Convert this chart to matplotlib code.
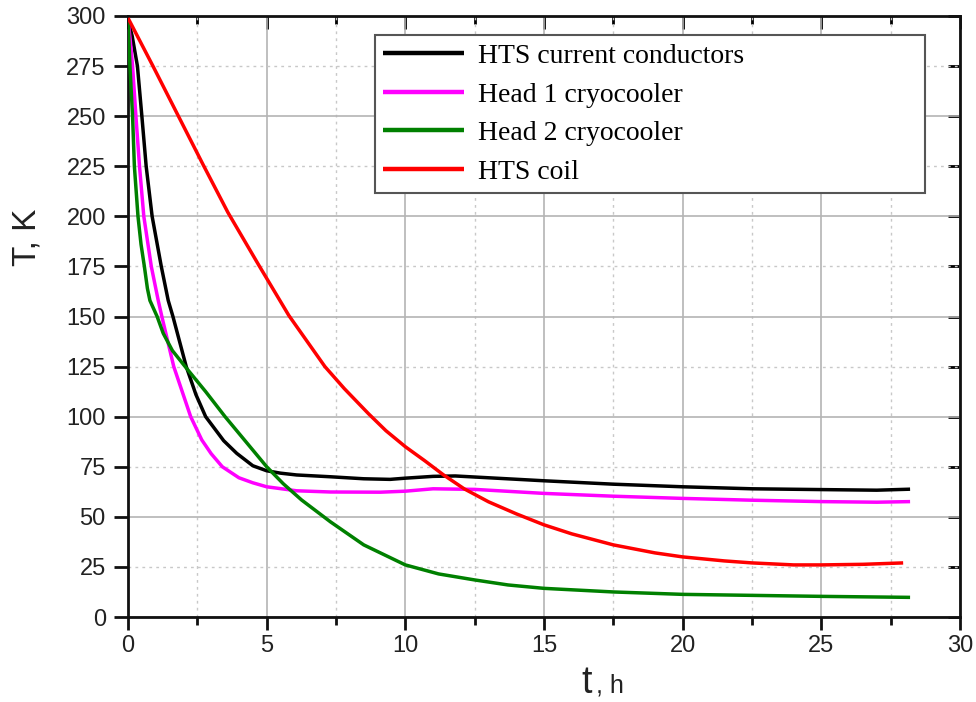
import matplotlib
matplotlib.use("Agg")
import matplotlib.pyplot as plt
from matplotlib.ticker import MultipleLocator, FormatStrFormatter

# ---- data ----
t_coil = [0, 0.9, 1.8, 2.7, 3.6, 4.7, 5.8, 7.1, 7.8, 8.67, 9.3, 10.0, 10.7, 11.37, 12.12,
          13.0, 14.0, 15, 16.0, 17.5, 19, 20, 21.5, 22.5, 24, 25, 26.5, 27.95]
T_coil = [299, 275, 250.5, 226, 202, 176, 150.5, 125, 114, 101.5, 93, 85, 78, 71, 64,
          57.5, 51.5, 46, 41.5, 36, 32, 30, 28, 27, 26, 26, 26.3, 27]

t_cond = [0, 0.15, 0.34, 0.5, 0.655, 0.87, 1.2, 1.45, 1.62, 2.1, 2.45, 2.8, 3.45, 3.92, 4.5,
          5.0, 5.5, 6.08, 7.3, 8.5, 9.45, 10, 11.0, 11.8, 13, 15, 17.5, 20, 22.5, 25, 27, 28.2]
T_cond = [298, 290, 275, 250, 225, 200, 175, 158, 150, 125, 111, 100, 88, 81.7, 75.5,
          73, 71.8, 70.9, 70, 69, 68.7, 69.3, 70.2, 70.4, 69.5, 68, 66.3, 65, 64, 63.6, 63.3, 63.8]

t_head1 = [0, 0.08, 0.165, 0.285, 0.415, 0.57, 0.84, 1.09, 1.22, 1.65, 2.26, 2.66, 3.0, 3.4, 4.0,
           4.5, 5.0, 6.08, 7.3, 9.1, 10, 11, 12.5, 14, 15, 17.5, 20, 22.5, 25, 27, 28.2]
T_head1 = [298, 288, 275, 250, 225, 200, 175, 158, 150, 125, 100, 88.4, 81.5, 75, 69.5,
           67, 65, 63, 62.4, 62.3, 62.8, 64, 63.7, 62.5, 61.7, 60.3, 59.2, 58.3, 57.6, 57.3, 57.6]

t_head2 = [0, 0.035, 0.07, 0.165, 0.23, 0.36, 0.47, 0.59, 0.7, 0.79, 1.05, 1.27, 1.6, 2.06, 2.8,
           3.5, 4.25, 5.0, 5.6, 6.26, 7.3, 8.5, 10, 11.2, 12.5, 13.7, 15, 17.5, 20, 22.5, 25, 28.2]
T_head2 = [298, 287, 275, 250, 225, 200, 186, 175, 164, 158, 150, 141.6, 133, 125, 112.5,
           100, 87.5, 75, 66.5, 58.4, 47.5, 36, 26, 21.5, 18.5, 16, 14.3, 12.5, 11.3, 10.8, 10.3, 9.8]

labels = ["HTS current conductors", "Head 1 cryocooler", "Head 2 cryocooler", "HTS coil"]
colors = ["#000000", "#ff00ff", "#008000", "#ff0000"]

plt.rcParams['font.family'] = ['Liberation Sans', 'DejaVu Sans']

fig = plt.figure(figsize=(9.76, 7.02), dpi=100)
ax = fig.add_axes([128/976, 85/702, 832/976, 601/702])

series = [(t_cond, T_cond), (t_head1, T_head1), (t_head2, T_head2), (t_coil, T_coil)]
lines = []
for (tx, ty), lab, c in zip(series, labels, colors):
    ln, = ax.plot(tx, ty, color=c, lw=2.5, label=lab, solid_joinstyle='round',
                  solid_capstyle='butt', zorder=3)
    lines.append(ln)

ax.set_xlim(0, 30)
ax.set_ylim(0, 300)

ax.xaxis.set_major_locator(MultipleLocator(5))
ax.xaxis.set_minor_locator(MultipleLocator(2.5))
ax.yaxis.set_major_locator(MultipleLocator(50))
ax.yaxis.set_minor_locator(MultipleLocator(25))
ax.yaxis.set_major_formatter(FormatStrFormatter('%d'))
ax.yaxis.set_minor_formatter(FormatStrFormatter('%d'))

ax.grid(which='major', color='#b4b4b4', lw=1.2, ls='-', zorder=0)
ax.grid(which='minor', color='#c8c8c8', lw=1.0, ls=(0, (2, 3)), zorder=0)

for s in ax.spines.values():
    s.set_linewidth(2.0)
    s.set_color('#111111')

ax.tick_params(axis='both', which='both', labelsize=17, labelcolor='#222222', width=2.0,
               color='#111111')
ax.tick_params(axis='x', which='major', direction='out', length=9, pad=4)
ax.tick_params(axis='x', which='minor', direction='out', length=6)
ax.tick_params(axis='y', which='both', direction='out', length=10, pad=6)

# inward ticks on top and right
axt = ax.secondary_xaxis('top')
axt.xaxis.set_major_locator(MultipleLocator(5))
axt.xaxis.set_minor_locator(MultipleLocator(2.5))
axt.tick_params(which='major', direction='in', length=9, width=2.0, labeltop=False)
axt.tick_params(which='minor', direction='in', length=6, width=2.0)
axt.spines['top'].set_visible(False)
axr = ax.secondary_yaxis('right')
axr.yaxis.set_major_locator(MultipleLocator(25))
axr.tick_params(which='major', direction='in', length=9, width=2.0, labelright=False)
axr.spines['right'].set_visible(False)

# axis labels
ax.text(-0.121, 0.631, "T, K", rotation=90, fontsize=24, ha='center', va='center',
        transform=ax.transAxes, color='#222222')
ax.text(0.557, -0.126, "t", fontsize=27, ha='right', va='baseline',
        transform=ax.transAxes, color='#222222')
ax.text(0.562, -0.126, ", h", fontsize=18, ha='left', va='baseline',
        transform=ax.transAxes, color='#222222')

leg = ax.legend(handles=lines, loc='upper left',
                bbox_to_anchor=(0.297, 0.705, 0.661, 0.263), mode='expand',
                prop={'family': 'Liberation Serif', 'size': 20},
                handlelength=2.9, handletextpad=0.5, labelspacing=0.47,
                borderpad=0.3, borderaxespad=0, fancybox=False, framealpha=1,
                edgecolor='#555555')
leg.get_frame().set_linewidth(1.5)
for h in leg.get_lines():
    h.set_linewidth(3.2)

fig.savefig("out.png", dpi=100, facecolor='white')
